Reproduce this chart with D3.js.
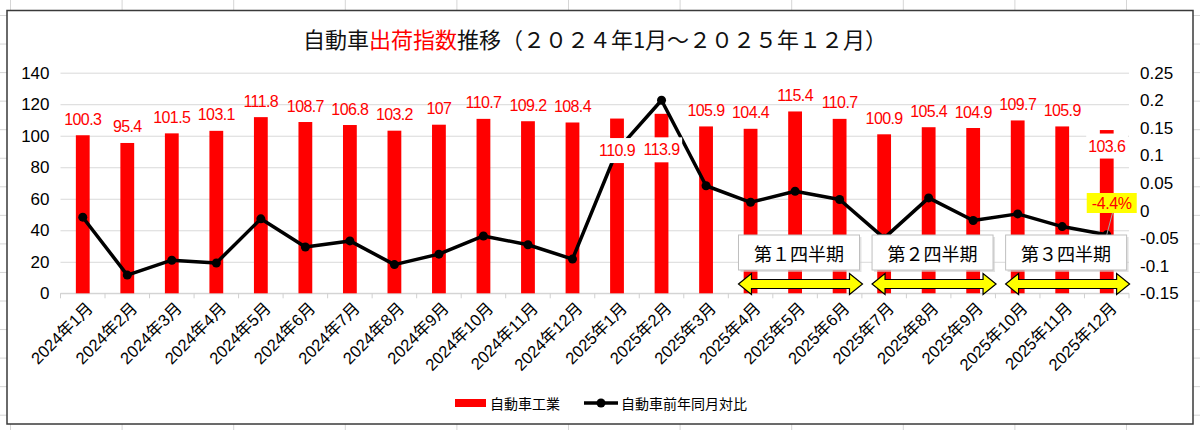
<!DOCTYPE html>
<html lang="ja">
<head>
<meta charset="utf-8">
<title>自動車出荷指数推移</title>
<script src="https://cdn.jsdelivr.net/npm/d3@7"></script>
<style>
  body { margin: 0; background: #fff; }
  svg { display: block; }
</style>
</head>
<body>
<div id="chart"></div>
<script>
// categories
const months = [
  "2024年1月", "2024年2月", "2024年3月", "2024年4月", "2024年5月", "2024年6月",
  "2024年7月", "2024年8月", "2024年9月", "2024年10月", "2024年11月", "2024年12月",
  "2025年1月", "2025年2月", "2025年3月", "2025年4月", "2025年5月", "2025年6月",
  "2025年7月", "2025年8月", "2025年9月", "2025年10月", "2025年11月", "2025年12月"
];
// 自動車工業 (bars, left axis)
const shipmentIndex = [
  100.3, 95.4, 101.5, 103.1, 111.8, 108.7, 106.8, 103.2, 107, 110.7, 109.2, 108.4,
  110.9, 113.9, 105.9, 104.4, 115.4, 110.7, 100.9, 105.4, 104.9, 109.7, 105.9, 103.6
];
// 自動車前年同月対比 (line, right axis)
const yoyChange = [
  -0.012, -0.117, -0.090, -0.095, -0.015, -0.066, -0.055, -0.098, -0.079, -0.046, -0.062, -0.088,
  0.109, 0.200, 0.045, 0.015, 0.035, 0.020, -0.050, 0.023, -0.018, -0.006, -0.029, -0.044
];
const leftTicks = [0, 20, 40, 60, 80, 100, 120, 140];
const rightTicks = [-0.15, -0.1, -0.05, 0, 0.05, 0.1, 0.15, 0.2, 0.25];
const seriesNames = ["自動車工業", "自動車前年同月対比"];
const quarterLabels = ["第１四半期", "第２四半期", "第３四半期"];
const quarterStart = ["2025年4月", "2025年7月", "2025年10月"];
const lastChangeLabel = "-4.4%";

const W = 1200, H = 430;
const NUM_FONT = '"Liberation Sans", Arial, "Noto Sans CJK JP", sans-serif';
const JP_FONT = '"Noto Sans CJK JP", "Noto Sans CJK SC", sans-serif';
const RED = "#ff0000";

const svg = d3.select("#chart").append("svg")
    .attr("width", W)
    .attr("height", H);

// spreadsheet cells behind the chart object
const sheet = svg.append("g").attr("stroke", "#d6d6d6").attr("stroke-width", 1);
sheet.selectAll(".col").data(d3.range(11)).enter().append("line")
    .attr("x1", i => 10.5 + i * 111.6).attr("x2", i => 10.5 + i * 111.6)
    .attr("y1", 0).attr("y2", H);
sheet.selectAll(".row").data(d3.range(16)).enter().append("line")
    .attr("y1", i => 15.5 + i * 28.55).attr("y2", i => 15.5 + i * 28.55)
    .attr("x1", 0).attr("x2", W);

// chart frame
svg.append("rect")
    .attr("x", 7).attr("y", 10.5)
    .attr("width", 1186).attr("height", 413.5)
    .attr("fill", "#fff")
    .attr("stroke", "#3a3a3a")
    .attr("stroke-width", 1.5);

// title
const title = svg.append("text")
    .attr("x", 595).attr("y", 38)
    .attr("text-anchor", "middle")
    .attr("dominant-baseline", "central")
    .style("font-family", JP_FONT)
    .style("font-size", "22px")
    .attr("fill", "#111");
title.append("tspan").text("自動車");
title.append("tspan").attr("fill", RED).text("出荷指数");
title.append("tspan").text("推移（２０２４年1月～２０２５年１２月）");

// scales
const plotLeft = 60.5, plotRight = 1129, plotBottom = 293.3, plotTop = 72.7;

const x = d3.scaleBand()
    .domain(months)
    .range([plotLeft, plotRight])
    .paddingInner(0.69)
    .paddingOuter(0.345);
const xc = m => x(m) + x.bandwidth() / 2;
const step = x.step();

const yL = d3.scaleLinear().domain([0, 140]).range([plotBottom, plotTop]);
const yR = d3.scaleLinear().domain([-0.15, 0.25]).range([plotBottom, plotTop]);

// left axis + gridlines
const leftAxis = svg.append("g")
    .attr("transform", `translate(${plotLeft},0)`)
    .call(d3.axisLeft(yL).tickValues(leftTicks).tickSize(-(plotRight - plotLeft)).tickPadding(11));
leftAxis.select(".domain").remove();
leftAxis.selectAll("line").attr("stroke", "#d9d9d9");
leftAxis.selectAll("text")
    .style("font-family", NUM_FONT).style("font-size", "17px").attr("fill", "#000");

// category axis: baseline and ticks between categories
const xAxis = svg.append("g").attr("stroke", "#d0d0d0");
xAxis.append("line")
    .attr("x1", plotLeft).attr("x2", plotRight)
    .attr("y1", plotBottom).attr("y2", plotBottom);
xAxis.selectAll(".tick").data(d3.range(months.length + 1)).enter().append("line")
    .attr("x1", i => plotLeft + i * step).attr("x2", i => plotLeft + i * step)
    .attr("y1", plotBottom).attr("y2", plotBottom + 5);

svg.append("g").selectAll("text")
    .data(months)
    .enter()
    .append("text")
    .attr("transform", m => `translate(${xc(m) + 7},${plotBottom + 12}) rotate(-45)`)
    .attr("text-anchor", "end")
    .attr("dy", "0.35em")
    .style("font-family", NUM_FONT)
    .style("font-size", "16.5px")
    .attr("fill", "#000")
    .text(m => m);

// bars
svg.append("g").selectAll("rect")
    .data(shipmentIndex)
    .enter()
    .append("rect")
    .attr("x", (d, i) => x(months[i]))
    .attr("width", x.bandwidth())
    .attr("y", d => yL(d))
    .attr("height", d => yL(0) - yL(d))
    .attr("fill", RED);

// line
const yoyLine = d3.line()
    .x((d, i) => xc(months[i]))
    .y(d => yR(d));

svg.append("path")
    .datum(yoyChange)
    .attr("fill", "none")
    .attr("stroke", "#000")
    .attr("stroke-width", 3.5)
    .attr("stroke-linejoin", "round")
    .attr("d", yoyLine);

svg.append("g").selectAll("circle")
    .data(yoyChange)
    .enter()
    .append("circle")
    .attr("cx", (d, i) => xc(months[i]))
    .attr("cy", d => yR(d))
    .attr("r", 4.5)
    .attr("fill", "#000");

// bar data labels; a few were dragged down into the bar with a white fill
const insideShift = new Map([[12, 32], [13, 36], [23, 16]]);
const labelY = (d, i) => insideShift.has(i) ? yL(d) + insideShift.get(i) : yL(d) - 16;

const labels = svg.append("g");
const labelText = labels.selectAll("text")
    .data(shipmentIndex)
    .enter()
    .append("text")
    .attr("x", (d, i) => xc(months[i]))
    .attr("y", labelY)
    .attr("text-anchor", "middle")
    .attr("dominant-baseline", "central")
    .style("font-family", NUM_FONT)
    .style("font-size", "16px")
    .style("letter-spacing", "-0.6px")
    .attr("fill", RED)
    .text(d => d);

labelText.filter((d, i) => insideShift.has(i)).each(function () {
    const b = this.getBBox();
    labels.insert("rect", "text")
        .attr("x", b.x - 2).attr("y", b.y - 4)
        .attr("width", b.width + 4).attr("height", b.height + 8)
        .attr("fill", "#fff");
});

// quarter boxes and arrows
const arrowPath = (x0, x1, cy) => {
    const hl = 13, hh = 10.5, sh = 4.5;
    return `M${x0},${cy} L${x0 + hl},${cy - hh} L${x0 + hl},${cy - sh} L${x1 - hl},${cy - sh} ` +
        `L${x1 - hl},${cy - hh} L${x1},${cy} L${x1 - hl},${cy + hh} L${x1 - hl},${cy + sh} ` +
        `L${x0 + hl},${cy + sh} L${x0 + hl},${cy + hh} Z`;
};

const quarters = svg.append("g").selectAll("g")
    .data(quarterLabels)
    .enter()
    .append("g")
    .attr("transform", (d, i) => `translate(${x(quarterStart[i]) - x.bandwidth() * 1.1 + 10},0)`);

quarters.append("rect")
    .attr("x", 2).attr("y", 237)
    .attr("width", 121).attr("height", 35)
    .attr("fill", "#cfcfcf").attr("opacity", 0.6);
quarters.append("rect")
    .attr("x", 0).attr("y", 235)
    .attr("width", 121).attr("height", 35)
    .attr("fill", "#fff")
    .attr("stroke", "#bfbfbf");
quarters.append("text")
    .attr("x", 60.5).attr("y", 253)
    .attr("text-anchor", "middle")
    .attr("dominant-baseline", "central")
    .style("font-family", JP_FONT)
    .style("font-size", "18px")
    .attr("fill", "#000")
    .text(d => d);
quarters.append("path")
    .attr("d", arrowPath(0, 124, 284))
    .attr("fill", "#ffff00")
    .attr("stroke", "#000")
    .attr("stroke-width", 1.2)
    .attr("stroke-linejoin", "miter");

// last value callout
const lastX = xc(months[months.length - 1]);
const lastY = yR(yoyChange[yoyChange.length - 1]);
svg.append("line")
    .attr("x1", lastX).attr("y1", lastY)
    .attr("x2", lastX + 6).attr("y2", 212)
    .attr("stroke", "#a6a6a6").attr("stroke-width", 1);
svg.append("rect")
    .attr("x", lastX - 20).attr("y", 193)
    .attr("width", 50).attr("height", 20)
    .attr("fill", "#ffff00");
svg.append("text")
    .attr("x", lastX + 5).attr("y", 203)
    .attr("text-anchor", "middle")
    .attr("dominant-baseline", "central")
    .style("font-family", NUM_FONT)
    .style("font-size", "16px")
    .style("letter-spacing", "-0.4px")
    .attr("fill", RED)
    .text(lastChangeLabel);

// right axis (drawn last so the callout never hides its labels)
const rightAxis = svg.append("g")
    .attr("transform", `translate(${plotRight},0)`)
    .call(d3.axisRight(yR).tickValues(rightTicks).tickSize(0).tickPadding(11)
        .tickFormat(d => String(+d.toFixed(2))));
rightAxis.select(".domain").remove();
rightAxis.selectAll("text")
    .style("font-family", NUM_FONT).style("font-size", "17px").attr("fill", "#000");

// legend
const legend = svg.append("g")
    .style("font-family", JP_FONT)
    .style("font-size", "14px");
legend.append("rect")
    .attr("x", 455).attr("y", 399)
    .attr("width", 31).attr("height", 8)
    .attr("fill", RED);
legend.append("text")
    .attr("x", 490).attr("y", 403)
    .attr("dominant-baseline", "central")
    .attr("fill", "#000")
    .text(seriesNames[0]);
legend.append("line")
    .attr("x1", 584).attr("x2", 618)
    .attr("y1", 403).attr("y2", 403)
    .attr("stroke", "#000").attr("stroke-width", 3.5);
legend.append("circle")
    .attr("cx", 601).attr("cy", 403).attr("r", 4.5)
    .attr("fill", "#000");
legend.append("text")
    .attr("x", 621).attr("y", 403)
    .attr("dominant-baseline", "central")
    .attr("fill", "#000")
    .text(seriesNames[1]);
</script>
</body>
</html>
